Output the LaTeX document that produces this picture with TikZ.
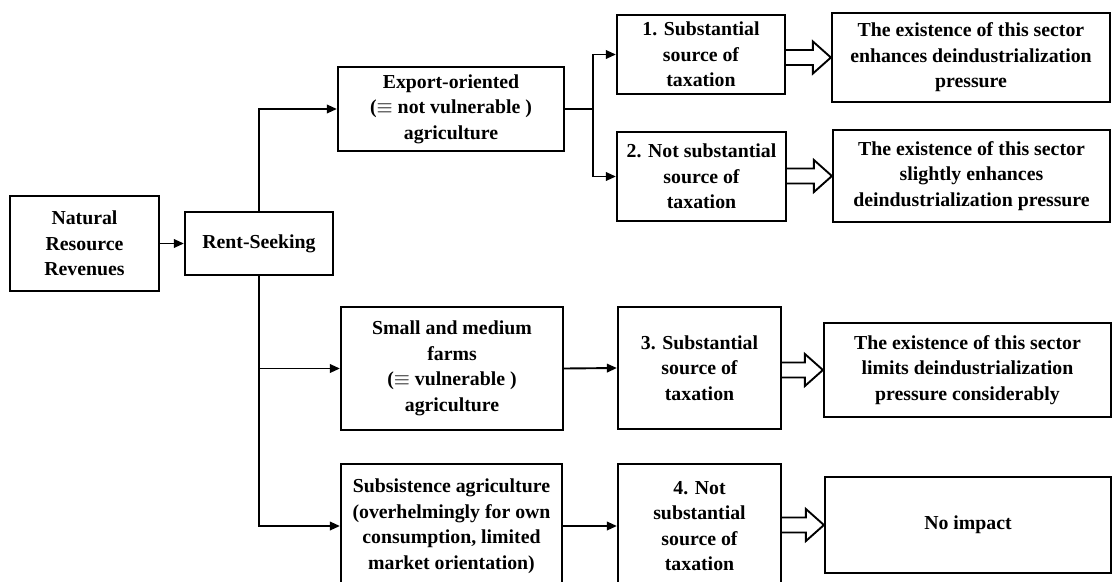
\documentclass[tikz,border=0pt]{standalone}
\usepackage{fontspec}
\setmainfont{Liberation Serif}
\usetikzlibrary{arrows.meta,calc}
\newcommand\hollowarrow[2]{%
  \path (#1.east |- #2.west) coordinate (hs) (#2.west) coordinate (ht);
  \draw[hollow] ($(hs)+(0,-7.5)$) -- ($(ht)+(-18,-7.5)$) -- ($(ht)+(-18,-16)$) -- (ht)
    -- ($(ht)+(-18,16)$) -- ($(ht)+(-18,7.5)$) -- ($(hs)+(0,7.5)$);}
\begin{document}
\begin{tikzpicture}[x=1pt,y=-1pt,
  box/.style={draw,line width=2.2pt,inner sep=0pt,align=center,
    font=\bfseries\fontsize{19.8}{25.5}\selectfont},
  arr/.style={line width=1.9pt,-{Triangle[length=10pt,width=8.5pt]}},
  link/.style={line width=1.9pt},
  hollow/.style={line width=1.9pt,line join=miter}]
\useasboundingbox (0,0) rectangle (1113,581);
\clip (0,0) rectangle (1113,581);

\node[box,minimum width=149pt,minimum height=95pt] (nrr) at (84.5,243.5) {Natural\\Resource\\Revenues};
\node[box,minimum width=148pt,minimum height=63pt] (rs) at (259,243.5) {Rent-Seeking};

\node[box,minimum width=226pt,minimum height=84pt] (exp) at (451,109) {Export-oriented\\($\equiv$ not vulnerable )\\agriculture};
\node[box,minimum width=222pt,minimum height=123pt] (sm) at (452,368.5) {Small and medium\\farms\\($\equiv$ vulnerable )\\agriculture};
\node[box,minimum width=221pt,minimum height=124pt] (sub) at (451.5,526) {Subsistence agriculture\\(overhelmingly for own\\consumption, limited\\market orientation)};

\node[box,minimum width=168pt,minimum height=79pt] (b1) at (701,54.5) {1. Substantial\\source of\\taxation};
\node[box,minimum width=169pt,minimum height=89pt] (b2) at (701.5,176.5) {2. Not substantial\\source of\\taxation};
\node[box,minimum width=163pt,minimum height=122pt] (b3) at (699.5,368) {3. Substantial\\source of\\taxation};
\node[box,minimum width=163pt,minimum height=124pt] (b4) at (699.5,526) {4. Not\\substantial\\source of\\taxation};

\node[box,minimum width=278pt,minimum height=89pt] (r1) at (971,57.5) {The existence of this sector\\enhances deindustrialization\\pressure};
\node[box,minimum width=277pt,minimum height=92pt] (r2) at (971.5,176) {The existence of this sector\\slightly enhances\\deindustrialization pressure};
\node[box,minimum width=287pt,minimum height=94pt] (r3) at (967.5,370) {The existence of this sector\\limits deindustrialization\\pressure considerably};
\node[box,minimum width=286pt,minimum height=96pt] (r4) at (968,525) {No impact};

\draw[arr] (nrr.east) -- (rs.west);
\draw[arr] (rs.north) |- (exp.west);
\draw[arr] (rs.south) |- (sm.west);
\draw[arr] (rs.south) |- (sub.west);

\coordinate (j1) at ($(exp.east)+(28,0)$);
\draw[link] (exp.east) -- (j1);
\draw[arr] (j1) |- (b1.west);
\draw[arr] (j1) |- (b2.west);
\draw[arr] (sm.east) -- (b3.west);
\draw[arr] (sub.east) -- (b4.west);

\hollowarrow{b1}{r1}
\hollowarrow{b2}{r2}
\hollowarrow{b3}{r3}
\hollowarrow{b4}{r4}
\end{tikzpicture}
\end{document}
